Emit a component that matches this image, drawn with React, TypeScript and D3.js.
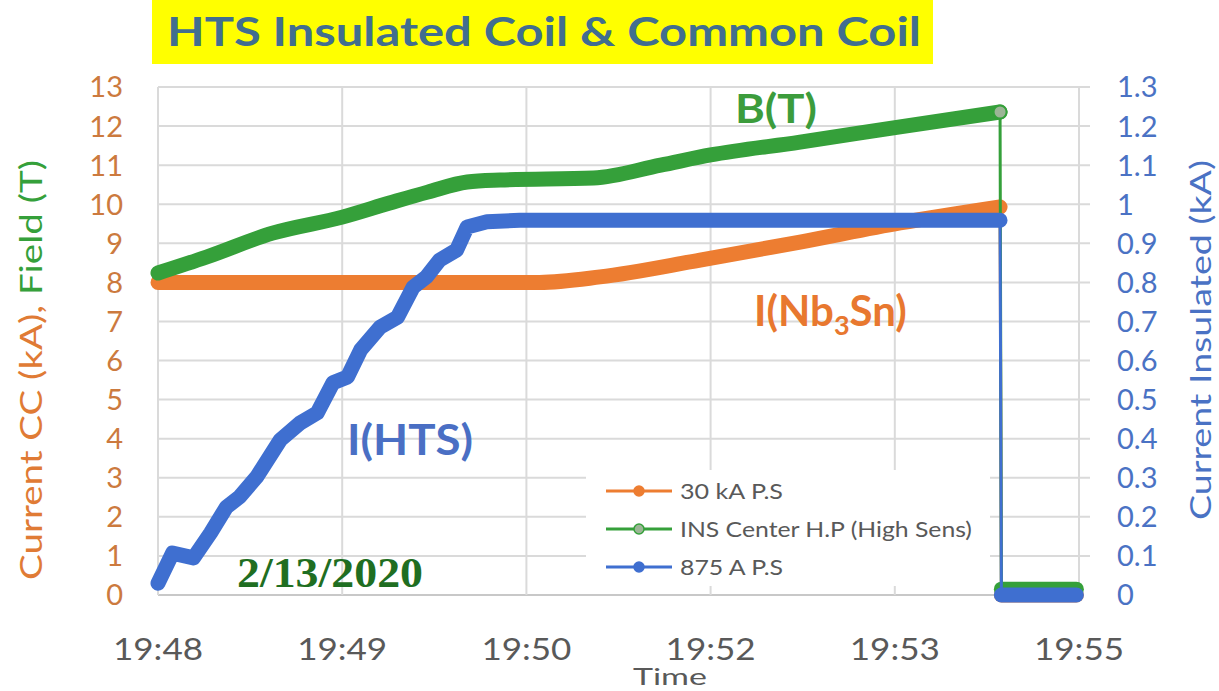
import React from "react";
import * as d3 from "d3";

// ---- data (time in minutes after 19:48) ----
const xTickLabels = ["19:48", "19:49", "19:50", "19:52", "19:53", "19:55"];
const leftTicks = [0, 1, 2, 3, 4, 5, 6, 7, 8, 9, 10, 11, 12, 13];
const rightTicks = [0, 0.1, 0.2, 0.3, 0.4, 0.5, 0.6, 0.7, 0.8, 0.9, 1, 1.1, 1.2, 1.3];
const quenchTime = 6.405;

const psTime = [0, 1.5, 2.9, 3.36, 4.12, 4.88, 5.64, 6.4, 6.41, 6.98];
const psCurrent = [8.0, 8.0, 8.0, 8.14, 8.57, 9.03, 9.52, 9.93, 0, 0];

const fieldTime = [0, 0.37, 0.87, 1.4, 1.76, 2.05, 2.35, 2.6, 3.31, 3.82, 4.2, 4.88, 5.64, 6.4, 6.41, 6.98];
const fieldValue = [8.24, 8.65, 9.26, 9.67, 10.03, 10.31, 10.57, 10.62, 10.67, 11.0, 11.26, 11.59, 11.98, 12.36, 0.15, 0.15];

const insTime = [0, 0.11, 0.27, 0.4, 0.52, 0.62, 0.75, 0.93, 1.08, 1.21, 1.33, 1.44, 1.54, 1.69, 1.82, 1.94, 2.04, 2.14, 2.27, 2.35, 2.5, 2.75, 6.4, 6.41, 6.98];
const insCurrent = [0.03, 0.107, 0.095, 0.159, 0.225, 0.251, 0.302, 0.397, 0.44, 0.466, 0.543, 0.558, 0.627, 0.686, 0.711, 0.788, 0.814, 0.857, 0.883, 0.942, 0.955, 0.959, 0.959, 0, 0];

const legendNames = ["30 kA P.S", "INS Center H.P (High Sens)", "875 A P.S"];
const legendWidths = [103, 292, 103];

const ORANGE = "#ed7d31";
const GREEN = "#35a03a";
const BLUE = "#3f6fd0";

const W = 1219, H = 691;
const plot = { left: 158, right: 1079, top: 87, bottom: 595 };

export default function App() {
  const x = d3.scaleLinear().domain([0, 7]).range([plot.left, plot.right]);
  const yL = d3.scaleLinear().domain([0, 13]).range([plot.bottom, plot.top]);
  const yR = d3.scaleLinear().domain([0, 1.3]).range([plot.bottom, plot.top]);
  const xTicks = xTickLabels.map((_, i) => i * 1.4);

  type P = [number, number];
  const mk = (ts: number[], vs: number[], y: any): P[] => ts.map((t, i) => [x(t), y(vs[i])]);
  const series = [
    { pts: mk(psTime, psCurrent, yL), t: psTime, color: ORANGE, curve: d3.curveMonotoneX },
    { pts: mk(fieldTime, fieldValue, yL), t: fieldTime, color: GREEN, curve: d3.curveMonotoneX },
    { pts: mk(insTime, insCurrent, yR), t: insTime, color: BLUE, curve: d3.curveLinear },
  ];
  const thin = d3.line<P>().x(d => d[0]).y(d => d[1]);

  const font = "Lato, 'Open Sans', sans-serif";
  const lastField = fieldTime.findIndex(t => t > quenchTime) - 1;

  return (
    <svg width={W} height={H} style={{ position: "absolute", left: 0, top: 0, background: "#fff" }} fontFamily={font}>
      <rect x={0} y={0} width={W} height={H} fill="#fff" />
      {/* title */}
      <rect x={152} y={0} width={781} height={64} fill="#ffff00" />
      <text x={167} y={46} fontSize={40} fontWeight={700} fill="#416e8f" textLength={754} lengthAdjust="spacingAndGlyphs">
        HTS Insulated Coil &amp; Common Coil
      </text>

      {/* grid */}
      {leftTicks.map(v => (
        <line key={"h" + v} x1={plot.left} x2={plot.right + (v === 0 ? 0 : 11)} y1={yL(v)} y2={yL(v)} stroke={v === 0 ? "#c8c8c8" : "#dadada"} strokeWidth={2} />
      ))}
      {xTicks.map((t, i) => (
        <line key={"v" + i} x1={x(t)} x2={x(t)} y1={plot.top} y2={plot.bottom} stroke="#dadada" strokeWidth={2} />
      ))}

      {/* legend background */}
      <rect x={586} y={470} width={404} height={116} fill="#fff" />

      {/* series: thin connectors then thick (dense-marker) bands */}
      {series.map((s, i) => (
        <g key={"s" + i}>
          <path d={thin(s.pts) || ""} fill="none" stroke={s.color} strokeWidth={3} />
          {[s.pts.filter((_, j) => s.t[j] <= quenchTime), s.pts.filter((_, j) => s.t[j] > quenchTime)].map((seg, k) => (
            <path key={k} d={d3.line<P>().x(d => d[0]).y(d => d[1]).curve(s.curve)(seg) || ""} fill="none" stroke={s.color}
              strokeWidth={15} strokeLinecap="round" strokeLinejoin="round" />
          ))}
        </g>
      ))}
      {/* last green marker */}
      <circle cx={x(fieldTime[lastField])} cy={yL(fieldValue[lastField])} r={6.5} fill="#9cb596" stroke={GREEN} strokeWidth={2} />

      {/* left axis labels */}
      {leftTicks.map(v => (
        <text key={"l" + v} x={123} y={yL(v)} dy="0.36em" textAnchor="end" fontSize={29} fill="#cc7a3e">{v}</text>
      ))}
      {/* right axis labels */}
      {rightTicks.map(v => (
        <text key={"r" + v} x={1117} y={yR(v)} dy="0.36em" textAnchor="start" fontSize={29} fill="#4a72c4">{d3.format("~g")(v)}</text>
      ))}
      {/* x axis labels */}
      {xTicks.map((t, i) => (
        <text key={"x" + i} x={x(t)} y={660} textAnchor="middle" fontSize={31} fill="#595959" textLength={90} lengthAdjust="spacingAndGlyphs">{xTickLabels[i]}</text>
      ))}
      <text x={670} y={685} textAnchor="middle" fontSize={24} fill="#595959" textLength={74} lengthAdjust="spacingAndGlyphs">Time</text>

      {/* axis titles */}
      <text transform="translate(42,370) rotate(-90)" textAnchor="middle" fontSize={31} textLength={420} lengthAdjust="spacingAndGlyphs">
        <tspan fill="#e07b35">Current CC (kA), </tspan>
        <tspan fill={GREEN}>Field (T)</tspan>
      </text>
      <text transform="translate(1211,340) rotate(-90)" textAnchor="middle" fontSize={29} fill="#4a72c4" textLength={360} lengthAdjust="spacingAndGlyphs">Current Insulated (kA)</text>

      {/* annotations */}
      <text x={735} y={123} fontSize={41} fontWeight={700} fill="#3c9c3c" textLength={82} lengthAdjust="spacingAndGlyphs">B(T)</text>
      <text x={754} y={326} fontSize={42} fontWeight={700} fill="#e8782f">
        I(Nb<tspan fontSize={27} dy={9}>3</tspan><tspan dy={-9}>Sn)</tspan>
      </text>
      <text x={347} y={455} fontSize={42} fontWeight={700} fill="#4a6fc4" textLength={126} lengthAdjust="spacingAndGlyphs">I(HTS)</text>
      <text x={237} y={587} fontSize={42} fontWeight={700} fontFamily="'Liberation Serif', 'DejaVu Serif', serif" fill="#1f6e22" textLength={186} lengthAdjust="spacingAndGlyphs">2/13/2020</text>

      {/* legend */}
      {legendNames.map((n, i) => {
        const c = [ORANGE, GREEN, BLUE][i];
        const ly = 491 + i * 38;
        return (
          <g key={"lg" + i}>
            <line x1={606} x2={672} y1={ly} y2={ly} stroke={c} strokeWidth={3} />
            <circle cx={639} cy={ly} r={5} fill={i === 1 ? "#9cb596" : c} stroke={c} strokeWidth={1.5} />
            <text x={680} y={ly} dy="0.36em" fontSize={21} fill="#595959" textLength={legendWidths[i]} lengthAdjust="spacingAndGlyphs">{n}</text>
          </g>
        );
      })}
    </svg>
  );
}
